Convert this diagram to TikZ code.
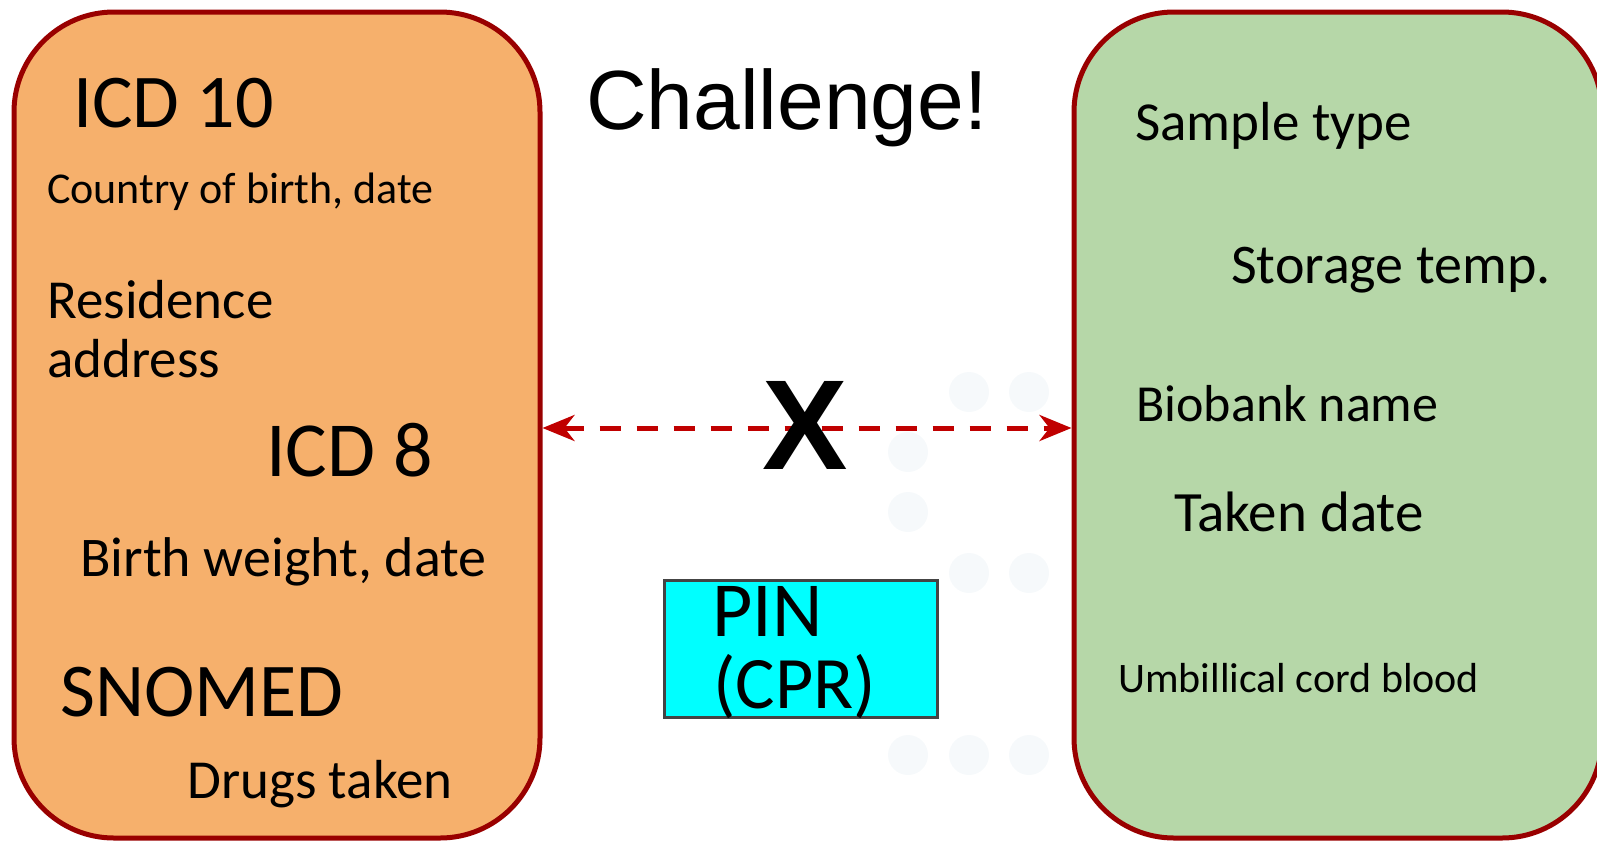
\documentclass[tikz,border=0pt]{standalone}
\usepackage{fontspec}
\setmainfont{Carlito}
\newfontfamily\arialf{Liberation Sans}
\usetikzlibrary{calc}
\usetikzlibrary{arrows.meta}
\definecolor{boxorange}{RGB}{246,176,108}
\definecolor{boxgreen}{RGB}{182,215,168}
\definecolor{boxred}{RGB}{153,0,0}
\definecolor{arrred}{RGB}{192,0,0}
\definecolor{pincyan}{RGB}{0,255,255}
\definecolor{pingray}{RGB}{68,68,68}
\definecolor{dotcol}{RGB}{246,249,251}

\begin{document}
\begin{tikzpicture}[x=1pt, y=-1pt,
  bigbox/.style={draw=boxred, line width=5pt, rounded corners=100pt, minimum height=826pt},
  txt/.style={anchor=base west, inner sep=0pt, font=\fontsize{#1}{#1}\selectfont},
  arr/.style={arrred, line width=5pt, dash pattern=on 21pt off 16pt,
    {Stealth[length=32pt, width=26pt, inset=10pt]}-{Stealth[length=32pt, width=26pt, inset=10pt]}}]
\useasboundingbox (0,0) rectangle (1597,841);
\foreach \x/\y in {969/392, 1029/392, 908/452, 908/512, 969/573, 1029/573, 908/755, 969/755, 1029/755} {
 \fill[dotcol] (\x,\y) circle (20pt);
}
\node[bigbox, fill=boxorange, minimum width=526pt] (dem) at (277,425) {};
\node[bigbox, fill=boxgreen, minimum width=528pt] (bio) at (1338,425) {};
\node[txt=76] (icdten) at (73,127) {ICD 10};
\node[txt=44] (birthplace) at (47,203) {Country of birth, date};
\node[txt=55] (residence) at (47,318) {Residence};
\node[txt=55] (address) at (47,377) {address};
\node[txt=78] (icdeight) at (266,476) {ICD 8};
\node[txt=56] (birthweight) at (80,576) {Birth weight, date};
\node[txt=76] (snomed) at (60,716) {SNOMED};
\node[txt=55] (drugs) at (187,798) {Drugs taken};
\node[txt=55] (sample) at (1135,140) {Sample type};
\node[txt=56] (storage) at (1231,283) {Storage temp.};
\node[txt=52] (biobank) at (1136,421) {Biobank name};
\node[txt=57] (taken) at (1174,531) {Taken date};
\node[txt=42] (cord) at (1118,692) {Umbillical cord blood};
\node[txt=84, font=\arialf\fontsize{84}{84}\selectfont] (challenge) at (586,129) {Challenge!};
\draw[arr] ([yshift=-3pt]dem.east) -- ([yshift=-3pt]bio.west);
\node[anchor=base, inner sep=0pt, font=\arialf\bfseries\fontsize{128}{128}\selectfont] (cross) at (805,469) {X};
\node[draw=pingray, fill=pincyan, line width=3pt, minimum width=273pt, minimum height=137pt] (pin) at (801,649) {};
\node[txt=78] (pinline) at (712,636) {PIN};
\node[txt=74] (cprline) at (713,708) {(CPR)};
\end{tikzpicture}
\end{document}
